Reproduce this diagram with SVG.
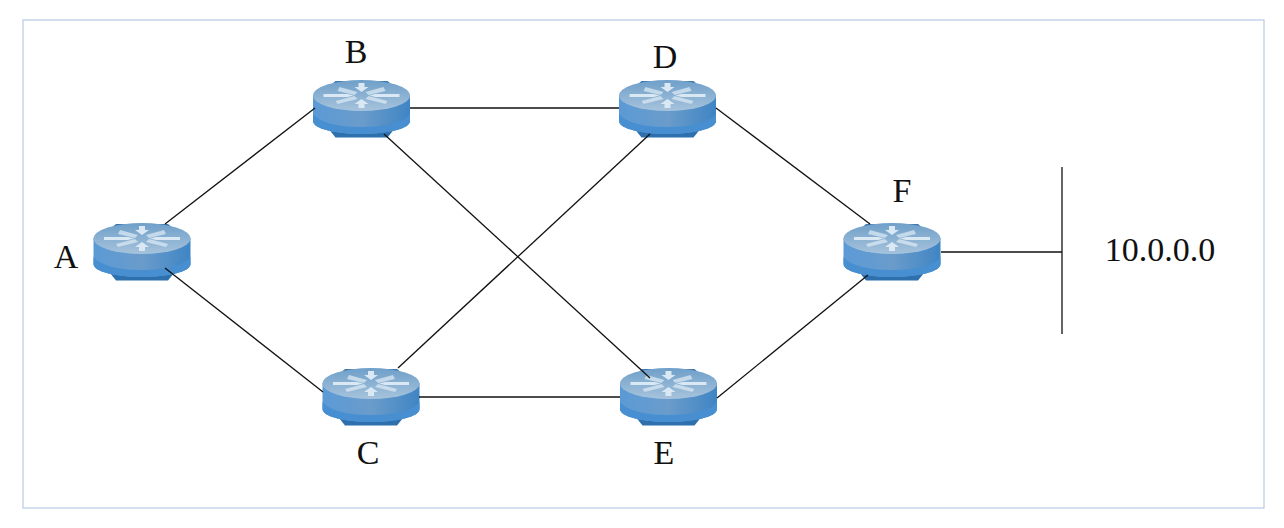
<svg xmlns="http://www.w3.org/2000/svg" width="1284" height="528" viewBox="0 0 1284 528">
<style>
.frame{fill:#fff;stroke:#bccfe6;stroke-width:1.3}
.link{stroke:#111;stroke-width:1.3;fill:none}
.lbl{font-family:"Liberation Serif","Times New Roman",serif;font-size:34px;fill:#111;text-anchor:middle}
</style>
<defs>
<filter id="soft" x="-5%" y="-5%" width="110%" height="110%"><feGaussianBlur stdDeviation=".6"/></filter>
<linearGradient id="side" x1="0" y1="0" x2="1" y2="0">
<stop offset="0" stop-color="#5b9ad6"/><stop offset=".5" stop-color="#6a9ccb"/><stop offset="1" stop-color="#3f85c4"/>
</linearGradient>
<linearGradient id="top" x1="0" y1="0" x2="0" y2="1">
<stop offset="0" stop-color="#6f9fc9"/><stop offset="1" stop-color="#a6c3dc"/>
</linearGradient>
<g id="router" filter="url(#soft)">
<path d="M-26 1H26L32 6H-32Z" fill="#3b78b0"/>
<path d="M-32 50H32L26 57.500H-26Z" fill="#2f6fae"/>
<path d="M-48.500 15V41C-48.500 49 -25 54 0 54S48.500 49 48.500 41V15Z" fill="url(#side)"/>
<path d="M-48.500 34C-40 44 -20 47 0 47S40 44 48.500 34V41C48.500 49 25 54 0 54S-48.500 49 -48.500 41Z" fill="#468fd0"/>
<ellipse cx="0" cy="15.500" rx="48.500" ry="15.500" fill="url(#top)"/>
<g fill="#d9e8f3">
<path d="M-38 14H-14L-8 15.500 -14 17H-38Z"/>
<path d="M38 14H14L8 15.500 14 17H38Z"/>
<path d="M-22 7 -4 12 -7 15 -24 11Z" opacity=".75"/>
<path d="M22 7 4 12 7 15 24 11Z" opacity=".75"/>
<path d="M-3 3H3V7H7L0 12 -7 7H-3Z"/>
<path d="M-3 28H3V24H7L0 19 -7 24H-3Z"/>
<path d="M-24 24 -4 19 -7 16 -26 21Z" opacity=".75"/>
<path d="M24 24 4 19 7 16 26 21Z" opacity=".75"/>
</g>
</g>
</defs>
<rect class="frame" x="23" y="20" width="1241" height="488"/>
<g id="node-A"><use href="#router" x="142" y="223"/><text class="lbl" x="66" y="268">A</text></g>
<g id="node-B"><use href="#router" x="361.500" y="80"/><text class="lbl" x="356" y="63">B</text></g>
<g id="node-C"><use href="#router" x="371" y="368"/><text class="lbl" x="368" y="464">C</text></g>
<g id="node-D"><use href="#router" x="667.500" y="80"/><text class="lbl" x="665" y="68">D</text></g>
<g id="node-E"><use href="#router" x="668.500" y="368"/><text class="lbl" x="664" y="464">E</text></g>
<g id="node-F"><use href="#router" x="892" y="223"/><text class="lbl" x="902" y="202">F</text></g>
<g id="network"><text class="lbl" x="1160" y="261">10.0.0.0</text></g>
<g id="connectors">
<line class="link" x1="165" y1="224" x2="315" y2="108"/>
<line class="link" x1="165" y1="268" x2="323" y2="392"/>
<line class="link" x1="410" y1="108" x2="619" y2="108"/>
<line class="link" x1="384" y1="134" x2="650" y2="378"/>
<line class="link" x1="398" y1="368" x2="650" y2="134"/>
<line class="link" x1="419" y1="397" x2="620" y2="397"/>
<line class="link" x1="716" y1="108" x2="870" y2="224"/>
<line class="link" x1="717" y1="398" x2="868" y2="275"/>
<line class="link" x1="941" y1="252" x2="1062" y2="252"/>
<line class="link" x1="1062" y1="167" x2="1062" y2="334"/>
</g>
</svg>
